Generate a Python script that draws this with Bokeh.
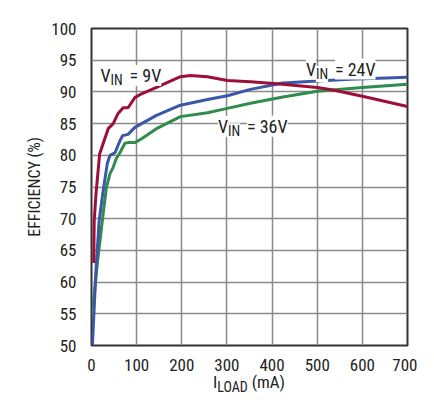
from bokeh.plotting import figure
from bokeh.models import Label, Range1d, FixedTicker, Div
from bokeh.layouts import column
from bokeh.embed import file_html
from bokeh.resources import INLINE

# Data
i_9v = [5, 6, 10, 18, 26, 37, 48, 59, 70, 81, 96, 111, 144, 197, 219, 257, 301, 352, 411, 500, 535, 600, 700]
e_9v = [63, 69.7, 74, 80.2, 81.9, 84.2, 85, 86.6, 87.5, 87.5, 89.1, 89.7, 90.7, 92.4, 92.6, 92.4, 91.8, 91.6, 91.3, 90.7, 90.3, 89.3, 87.7]

i_24v = [2, 10, 17, 26, 35, 41, 52, 63, 69, 81, 96, 144, 197, 257, 301, 352, 424, 500, 573, 700]
e_24v = [50, 62, 69.7, 74.5, 78.7, 80, 80.4, 82.3, 83.1, 83.3, 84.4, 86.3, 87.9, 88.8, 89.4, 90.4, 91.4, 91.7, 92.0, 92.3]

i_36v = [3, 13, 24, 33, 41, 48, 55, 63, 74, 81, 96, 111, 144, 197, 257, 301, 352, 424, 500, 600, 700]
e_36v = [55.8, 63, 69.7, 74.9, 77.1, 78.1, 79.5, 80.4, 81.9, 82, 82, 82.6, 84.2, 86.1, 86.7, 87.4, 88.2, 89.2, 90.1, 90.7, 91.2]

x_ticks = [0, 100, 200, 300, 400, 500, 600, 700]
y_ticks = [50, 55, 60, 65, 70, 75, 80, 85, 90, 95, 100]

RED = "#9c0f3b"
BLUE = "#3b57a8"
GREEN = "#2f8c4c"
FONT = "'Roboto Condensed', 'Liberation Sans', sans-serif"
TXT = "#222222"

p = figure(width=430, height=372, output_backend="svg", toolbar_location=None,
           x_range=Range1d(0, 700), y_range=Range1d(50, 100),
           min_border_left=91, min_border_right=10, min_border_top=28, min_border_bottom=27)
p.frame_width = 316
p.frame_height = 317

p.xaxis.ticker = FixedTicker(ticks=x_ticks)
p.yaxis.ticker = FixedTicker(ticks=y_ticks)
for ax in (p.xaxis, p.yaxis):
    ax.major_label_text_font = FONT
    ax.major_label_text_font_size = "17px"
    ax.major_label_text_color = TXT
    ax.axis_line_color = None
    ax.major_tick_line_color = None
    ax.minor_tick_line_color = None
p.xaxis.major_label_standoff = 7
p.yaxis.major_label_standoff = 9
p.yaxis.axis_label = "EFFICIENCY (%)"
p.yaxis.axis_label_text_font = FONT
p.yaxis.axis_label_text_font_size = "16px"
p.yaxis.axis_label_text_font_style = "normal"
p.yaxis.axis_label_text_color = TXT
p.yaxis.axis_label_standoff = 4

p.grid.grid_line_color = "#8a8a8a"
p.grid.grid_line_width = 1.5
p.outline_line_color = "#333333"
p.outline_line_width = 2
p.background_fill_color = "white"

p.line(i_36v, e_36v, color=GREEN, line_width=3)
p.line(i_24v, e_24v, color=BLUE, line_width=3)
p.line(i_9v, e_9v, color=RED, line_width=3)


def vin_label(x, y, rest):
    common = dict(text_font=FONT, text_color=TXT, background_fill_color="white",
                  text_baseline="middle")
    p.add_layout(Label(x=x, y=y, text="V", text_font_size="18px", **common))
    p.add_layout(Label(x=x, y=y, x_offset=10, y_offset=-5, text="IN", text_font_size="14px", **common))
    p.add_layout(Label(x=x, y=y, x_offset=29, text="= " + rest, text_font_size="18px", **common))


vin_label(20, 92.6, "9V")
vin_label(475, 93.6, "24V")
vin_label(280, 84.6, "36V")

# x axis title with subscript
xlabel = Div(text="I<sub style='font-size:14px;vertical-align:-4px'>LOAD</sub> (mA)",
             width=316, height=26, margin=(0, 0, 0, 91),
             styles={"font-family": "'Roboto Condensed', 'Liberation Sans', sans-serif",
                     "font-size": "17px", "color": TXT, "text-align": "center",
                     "line-height": "18px", "width": "316px"})

open("out.html", "w").write(file_html(column(p, xlabel, spacing=0), INLINE))
